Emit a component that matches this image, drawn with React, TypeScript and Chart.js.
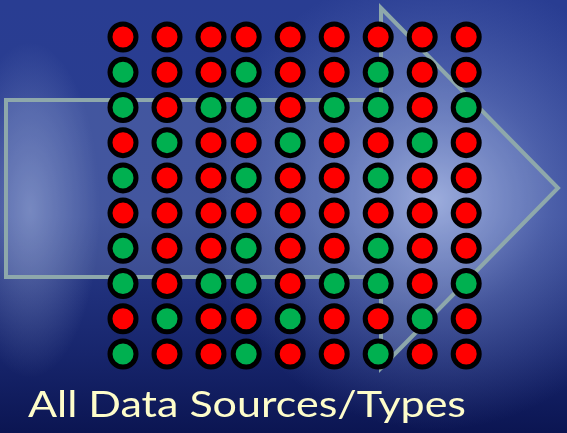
import React, { useEffect, useRef } from "react";
import { Chart, registerables } from "chart.js";

Chart.register(...registerables);

// Column positions (in column units; the 4th column sits closer to the 3rd)
const columnPositions = [0, 1, 2, 2.8, 3.8, 4.8, 5.8, 6.8, 7.8];
// Row positions, top to bottom
const rowPositions = [0, 1, 2, 3, 4, 5, 6, 7, 8, 9];
// Status of each dot: R = red, G = green
const gridStatus = [
  "RRRRRRRRR",
  "GRRGRRGRR",
  "GRGGRGGRG",
  "RGRRGRRGR",
  "GRRGRRGRR",
  "RRRRRRRRR",
  "GRRGRRGRR",
  "GRGGRGGRG",
  "RGRRGRRGR",
  "GRRGRRGRR",
];
const seriesNames = ["Red", "Green"];
const titleText = "All Data Sources/Types";

const W = 567;
const H = 433;

function buildPoints(code: string) {
  const pts: { x: number; y: number }[] = [];
  rowPositions.forEach((ry, r) => {
    columnPositions.forEach((cx, c) => {
      if (gridStatus[r][c] === code) pts.push({ x: cx, y: ry });
    });
  });
  return pts;
}

const backgroundPlugin = {
  id: "slideBackground",
  beforeDraw(chart: any) {
    const ctx = chart.ctx as CanvasRenderingContext2D;
    const w = chart.width;
    const h = chart.height;
    ctx.save();
    const lg = ctx.createLinearGradient(0, 0, 0, h);
    lg.addColorStop(0, "#293d92");
    lg.addColorStop(0.5, "#2a3d8e");
    lg.addColorStop(0.82, "#17256c");
    lg.addColorStop(1, "#0b1552");
    ctx.fillStyle = lg;
    ctx.fillRect(0, 0, w, h);

    // central glow
    const rg = ctx.createRadialGradient(435, 200, 0, 435, 200, 230);
    rg.addColorStop(0, "rgba(175,190,235,0.8)");
    rg.addColorStop(0.5, "rgba(140,160,220,0.35)");
    rg.addColorStop(1, "rgba(120,140,210,0)");
    ctx.fillStyle = rg;
    ctx.fillRect(0, 0, w, h);

    // left pale silhouette
    ctx.save();
    ctx.translate(30, 210);
    ctx.scale(1, 2.4);
    const lg2 = ctx.createRadialGradient(0, 0, 0, 0, 0, 70);
    lg2.addColorStop(0, "rgba(190,205,240,0.42)");
    lg2.addColorStop(1, "rgba(190,205,240,0)");
    ctx.fillStyle = lg2;
    ctx.beginPath();
    ctx.arc(0, 0, 70, 0, Math.PI * 2);
    ctx.fill();
    ctx.restore();

    // arrow
    ctx.beginPath();
    ctx.moveTo(6, 100);
    ctx.lineTo(381, 100);
    ctx.lineTo(381, 8);
    ctx.lineTo(558, 188);
    ctx.lineTo(381, 368);
    ctx.lineTo(381, 277);
    ctx.lineTo(6, 277);
    ctx.closePath();
    ctx.fillStyle = "rgba(200,215,245,0.16)";
    ctx.fill();
    ctx.lineWidth = 4;
    ctx.lineJoin = "miter";
    ctx.strokeStyle = "#8ea8ab";
    ctx.stroke();
    ctx.restore();
  },
  afterDraw(chart: any) {
    const ctx = chart.ctx as CanvasRenderingContext2D;
    ctx.save();
    ctx.font = "37.5px Lato";
    ctx.fillStyle = "#fefdca";
    ctx.textBaseline = "alphabetic";
    const left = 28;
    const targetWidth = 438;
    const measured = ctx.measureText(titleText).width;
    const sx = measured > 0 ? targetWidth / measured : 1;
    ctx.translate(left, 417);
    ctx.scale(sx, 1);
    ctx.fillText(titleText, 0, 0);
    ctx.restore();
  },
};

export default function App() {
  const ref = useRef<HTMLCanvasElement | null>(null);
  useEffect(() => {
    if (!ref.current) return;
    const colW = 44;
    const rowH = 35.22;
    const chart = new Chart(ref.current, {
      type: "scatter",
      data: {
        datasets: [
          {
            label: seriesNames[0],
            data: buildPoints("R"),
            backgroundColor: "#ff0000",
            borderColor: "#000000",
            borderWidth: 5,
            pointRadius: 13,
            pointHoverRadius: 13,
          },
          {
            label: seriesNames[1],
            data: buildPoints("G"),
            backgroundColor: "#00b050",
            borderColor: "#000000",
            borderWidth: 5,
            pointRadius: 13,
            pointHoverRadius: 13,
          },
        ],
      },
      options: {
        animation: false,
        responsive: false,
        layout: { padding: 0, autoPadding: false },
        plugins: {
          legend: { display: false },
          title: { display: false },
          tooltip: { enabled: false },
        },
        scales: {
          x: {
            type: "linear",
            display: false,
            min: -123 / colW,
            max: (W - 123) / colW,
          },
          y: {
            type: "linear",
            display: false,
            reverse: true,
            min: -37 / rowH,
            max: (H - 37) / rowH,
          },
        },
      },
      plugins: [backgroundPlugin],
    });
    return () => chart.destroy();
  }, []);
  return (
    <div style={{ position: "fixed", left: 0, top: 0, width: W, height: H }}>
      <canvas ref={ref} width={W} height={H} style={{ display: "block" }} />
    </div>
  );
}
